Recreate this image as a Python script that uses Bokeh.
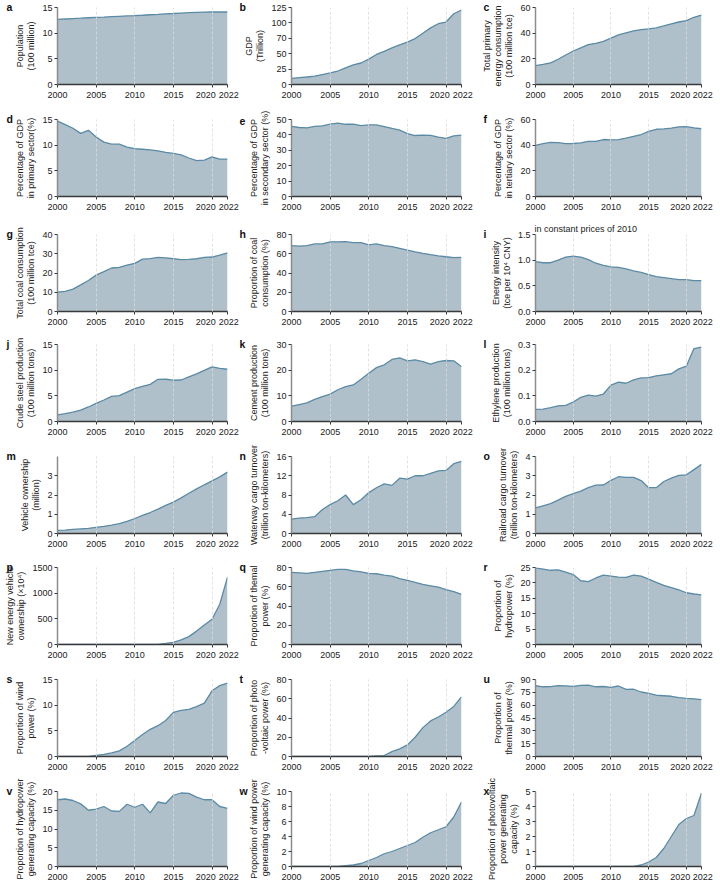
from bokeh.plotting import figure
from bokeh.layouts import gridplot
from bokeh.models import FixedTicker, NumeralTickFormatter, Range1d, Title
from bokeh.embed import file_html
from bokeh.resources import INLINE

years = list(range(2000, 2023))
x_ticks = [2000, 2005, 2010, 2015, 2020, 2022]
x_tick_labels = {2020: "2020\u00a0\u00a0\u00a0\u00a0\u00a0", 2022: "\u00a02022"}
grid_years = [2005, 2010, 2015, 2020]

population = [12.67, 12.76, 12.85, 12.92, 13.00, 13.08, 13.14, 13.21, 13.28, 13.35, 13.41, 13.49,
              13.59, 13.67, 13.76, 13.83, 13.92, 14.00, 14.05, 14.10, 14.12, 14.13, 14.12]
gdp = [10.0, 11.1, 12.2, 13.7, 16.2, 18.7, 21.9, 27.0, 31.9, 34.9, 41.2, 48.8, 53.9, 59.3, 64.4,
       68.9, 74.6, 83.2, 91.9, 98.7, 101.4, 114.9, 121.0]
energy_total = [14.7, 15.6, 16.9, 19.7, 23.0, 26.1, 28.6, 31.1, 32.1, 33.6, 36.1, 38.7, 40.2, 41.7,
                42.8, 43.4, 44.1, 45.6, 47.2, 48.7, 49.8, 52.4, 54.1]
primary_share = [14.7, 14.0, 13.3, 12.3, 12.9, 11.6, 10.6, 10.2, 10.2, 9.6, 9.3, 9.2, 9.1, 8.9, 8.6,
                 8.4, 8.1, 7.5, 7.0, 7.1, 7.7, 7.3, 7.3]
secondary_share = [45.5, 44.8, 44.5, 45.6, 45.9, 47.0, 47.6, 46.9, 47.0, 46.0, 46.5, 46.5, 45.4, 44.2,
                   43.1, 40.8, 39.6, 39.9, 39.7, 38.6, 37.8, 39.3, 39.9]
tertiary_share = [39.8, 41.2, 42.2, 42.0, 41.2, 41.3, 41.8, 42.9, 42.9, 44.4, 44.2, 44.3, 45.5, 46.9,
                  48.3, 50.8, 52.4, 52.7, 53.3, 54.3, 54.5, 53.5, 52.8]
coal_total = [10.1, 10.5, 11.6, 13.8, 16.1, 18.9, 20.7, 22.6, 22.9, 24.1, 25.0, 27.2, 27.5, 28.1,
              27.9, 27.4, 27.0, 27.1, 27.4, 28.1, 28.3, 29.3, 30.4]
coal_share = [68.5, 68.0, 68.5, 70.2, 70.2, 72.4, 72.4, 72.5, 71.5, 71.6, 69.2, 70.2, 68.5, 67.4,
              65.6, 63.7, 62.0, 60.4, 59.0, 57.7, 56.9, 56.0, 56.2]
energy_intensity = [0.97, 0.95, 0.95, 1.00, 1.06, 1.08, 1.06, 1.01, 0.94, 0.90, 0.87, 0.86, 0.83,
                    0.79, 0.76, 0.72, 0.68, 0.66, 0.64, 0.62, 0.62, 0.60, 0.60]
crude_steel = [1.29, 1.52, 1.82, 2.22, 2.83, 3.53, 4.19, 4.89, 5.03, 5.72, 6.39, 6.85, 7.24, 8.22,
               8.23, 8.04, 8.08, 8.71, 9.28, 9.96, 10.65, 10.35, 10.18]
cement = [5.97, 6.61, 7.25, 8.62, 9.70, 10.69, 12.37, 13.61, 14.24, 16.44, 18.82, 20.99, 22.10, 24.19,
          24.76, 23.59, 24.03, 23.31, 22.36, 23.30, 23.77, 23.63, 21.30]
ethylene = [0.047, 0.048, 0.054, 0.061, 0.063, 0.076, 0.094, 0.103, 0.099, 0.107, 0.142, 0.153, 0.149,
            0.162, 0.170, 0.171, 0.178, 0.182, 0.186, 0.205, 0.216, 0.284, 0.290]
vehicles = [0.16, 0.18, 0.21, 0.24, 0.27, 0.32, 0.37, 0.43, 0.51, 0.63, 0.78, 0.94, 1.09, 1.27, 1.46,
            1.63, 1.85, 2.09, 2.32, 2.53, 2.73, 2.94, 3.19]
waterway = [3.0, 3.2, 3.3, 3.5, 5.0, 6.0, 6.8, 8.0, 6.0, 7.0, 8.5, 9.5, 10.3, 10.0, 11.5, 11.3, 12.0,
            12.0, 12.5, 13.0, 13.1, 14.5, 15.0]
railroad = [1.33, 1.44, 1.55, 1.73, 1.93, 2.07, 2.20, 2.38, 2.51, 2.52, 2.76, 2.95, 2.92, 2.92, 2.75,
            2.38, 2.38, 2.70, 2.88, 3.02, 3.05, 3.32, 3.59]
nev = [0, 0, 0, 0, 0, 0, 0, 0, 0, 0, 0, 0, 0, 3, 22, 42, 91, 153, 261, 381, 492, 784, 1310]
thermal_share_q = [75, 74.5, 74, 75, 76, 77, 78, 78, 76.5, 75.5, 74, 73.5, 72, 71, 68.5, 66.5, 64.5,
                   62.5, 61, 59.5, 57, 55, 52]
hydro_share = [24.9, 24.5, 24.1, 24.2, 23.5, 22.7, 20.7, 20.4, 21.6, 22.5, 22.2, 21.9, 21.8, 22.5,
               22.2, 21.2, 20.2, 19.2, 18.5, 17.7, 16.8, 16.4, 16.1]
wind_share = [0, 0, 0, 0, 0, 0.2, 0.4, 0.7, 1.1, 2.0, 3.1, 4.3, 5.3, 6.0, 7.0, 8.6, 9.0, 9.2, 9.7,
              10.4, 12.8, 13.8, 14.3]
pv_share = [0, 0, 0, 0, 0, 0, 0, 0, 0, 0, 0, 0.5, 1, 5, 8, 12, 20, 30, 37, 41, 46, 52, 62]
thermal_share_u = [82.7, 81.5, 81.7, 82.9, 82.6, 82.0, 83.2, 83.3, 81.5, 81.8, 80.8, 82.4, 78.5, 78.6,
                   75.4, 73.7, 71.6, 71.0, 70.4, 68.9, 67.9, 67.4, 66.5]
hydro_cap_share = [17.8, 18.0, 17.6, 16.7, 15.0, 15.3, 16.0, 14.8, 14.7, 16.6, 15.8, 16.6, 14.3, 17.2,
                   16.8, 19.0, 19.6, 19.5, 18.5, 17.8, 17.8, 16.0, 15.5]
wind_cap_share = [0, 0, 0, 0, 0, 0, 0, 0.1, 0.2, 0.4, 0.8, 1.2, 1.7, 2.0, 2.4, 2.8, 3.2, 3.9, 4.5,
                  4.9, 5.3, 6.6, 8.6]
pv_cap_share = [0, 0, 0, 0, 0, 0, 0, 0, 0, 0, 0, 0, 0, 0, 0.1, 0.3, 0.6, 1.2, 2.0, 2.8, 3.2, 3.4, 4.9]

FILL = "#b0c0cb"
LINE = "#5a8aa5"
FONT = "Liberation Sans"

# (letter, y label, values, y ticks, y max, tick format, tick label overrides)
panels = [
    ("a", "Population\n(100 million)", population, [0, 5, 10, 15], 15, None, None),
    ("b", "GDP\n(Trillion)", gdp, [0, 25, 50, 75, 100, 125], 125, None, {75: "70"}),
    ("c", "Total primary\nenergy consumption\n(100 million tce)", energy_total, [0, 20, 40, 60], 60, None, None),
    ("d", "Percentage of GDP\nin primary sector(%)", primary_share, [0, 5, 10, 15], 15, None, None),
    ("e", "Percentage of GDP\nin secondary sector (%)", secondary_share, [0, 10, 20, 30, 40, 50], 50, None, None),
    ("f", "Percentage of GDP\nin tertiary sector (%)", tertiary_share, [0, 20, 40, 60], 60, None, None),
    ("g", "Total coal consumption\n(100 million tce)", coal_total, [0, 10, 20, 30, 40], 40, None, None),
    ("h", "Proportion of coal\nconsumption (%)", coal_share, [0, 20, 40, 60, 80], 80, None, None),
    ("i", "Energy intensity\n(tce per 10\u2074 CNY)", energy_intensity, [0, 0.5, 1.0, 1.5], 1.5, "0.0", None),
    ("j", "Crude steel production\n(100 million tons)", crude_steel, [0, 5, 10, 15], 15, None, None),
    ("k", "Cement production\n(100 million tons)", cement, [0, 10, 20, 30], 30, None, None),
    ("l", "Ethylene production\n(100 million tons)", ethylene, [0, 0.1, 0.2, 0.3], 0.3, "0.0", None),
    ("m", "Vehicle ownership\n(million)", vehicles, [0, 1, 2, 3], 4, None, None),
    ("n", "Waterway cargo turnover\n(trillion ton-kilometers)", waterway, [0, 4, 8, 12, 16], 16, None, None),
    ("o", "Railroad cargo turnover\n(trillion ton-kilometers)", railroad, [0, 1, 2, 3, 4], 4, None, None),
    ("p", "New energy vehicle\nownership (\u00d710\u2074)", nev, [0, 500, 1000, 1500], 1500, None, None),
    ("q", "Proportion of themal\npower (%)", thermal_share_q, [0, 20, 40, 60, 80], 80, None, None),
    ("r", "Proportion of\nhydropower (%)", hydro_share, [0, 5, 10, 15, 20, 25], 25, None, None),
    ("s", "Proportion of wind\npower (%)", wind_share, [0, 5, 10, 15], 15, None, None),
    ("t", "Proportion of photo\n-voltaic power (%)", pv_share, [0, 20, 40, 60, 80], 80, None, None),
    ("u", "Proportion of\nthermal power (%)", thermal_share_u, [0, 15, 30, 45, 60, 75, 90], 90, None, None),
    ("v", "Proportion of hydropower\ngenerating capacity (%)", hydro_cap_share, [0, 5, 10, 15, 20], 20, None, None),
    ("w", "Proportion of wind power\ngenerating capacity (%)", wind_cap_share, [0, 2, 4, 6, 8, 10], 10, None, None),
    ("x", "Proportion of photovoltaic\npower generating\ncapacity (%)", pv_cap_share, [0, 1, 2, 3, 4, 5], 5, None, None),
]

NOTE_I = "in constant prices of 2010"
FRAME_W = 170
FRAME_H = 77
COL_LEFT = [57, 52, 52]
COL_RIGHT = [12, 18, 19]
LETTER_OFFSET = [-51, -52, -52]
ROW_TOP = [7, 12, 12, 12, 12, 12, 12, 14]
ROW_BOTTOM = [23, 26, 21, 23, 22, 23, 21, 16]


def make_panel(idx, letter, label, values, yticks, ymax, fmt, overrides):
    row, col = divmod(idx, 3)
    top, bottom = ROW_TOP[row], ROW_BOTTOM[row]
    left, right = COL_LEFT[col], COL_RIGHT[col]
    p = figure(width=left + FRAME_W + right, height=top + FRAME_H + bottom,
               x_range=Range1d(2000, 2022), y_range=Range1d(yticks[0], ymax),
               output_backend="svg", toolbar_location=None,
               min_border_left=left, min_border_right=right,
               min_border_top=top, min_border_bottom=bottom)
    p.outline_line_color = None
    p.varea(x=years, y1=0, y2=values, fill_color=FILL, fill_alpha=1.0)
    p.line(years, values, line_color=LINE, line_width=1.3)

    p.ygrid.visible = False
    p.xgrid.ticker = FixedTicker(ticks=grid_years)
    p.xgrid.grid_line_color = "#dadada"
    p.xgrid.grid_line_dash = "3 2"
    p.xgrid.grid_line_width = 0.8
    p.xgrid.level = "annotation"

    for ax in (p.xaxis[0], p.yaxis[0]):
        ax.major_label_text_font = FONT
        ax.major_label_text_font_size = "9px"
        ax.major_label_text_color = "#222222"
        ax.minor_tick_line_color = None
        ax.major_tick_in = 0
        ax.major_tick_out = 3
        ax.major_label_standoff = 2
    p.xaxis.ticker = FixedTicker(ticks=x_ticks)
    p.xaxis.major_label_overrides = x_tick_labels
    p.xaxis.axis_line_color = "#3a3a3a"
    p.xaxis.axis_line_width = 1.5
    p.xaxis.major_tick_line_color = "#3a3a3a"
    p.yaxis.ticker = FixedTicker(ticks=yticks)
    p.yaxis.axis_line_color = "#8c8c8c"
    p.yaxis.axis_line_width = 1.5
    p.yaxis.major_tick_line_color = "#3a3a3a"
    if fmt:
        p.yaxis.formatter = NumeralTickFormatter(format=fmt)
    if overrides:
        p.yaxis.major_label_overrides = overrides
    p.yaxis.axis_label = label
    p.yaxis.axis_label_text_font = FONT
    p.yaxis.axis_label_text_font_size = "9px"
    p.yaxis.axis_label_text_font_style = "normal"
    p.yaxis.axis_label_text_color = "#222222"
    p.yaxis.axis_label_text_line_height = 1.1
    p.yaxis.axis_label_standoff = 3

    # panel letter, straddling the top edge of the frame at the far left
    p.add_layout(Title(text=letter, align="left", offset=LETTER_OFFSET[col], standoff=-11,
                       text_font=FONT, text_font_style="bold", text_font_size="10.5px",
                       text_color="#111111"), "above")
    if letter == "i":
        p.add_layout(Title(text=NOTE_I, align="left", offset=-1, standoff=-4,
                           text_font=FONT, text_font_style="normal", text_font_size="9px",
                           text_color="#222222"), "above")
    return p


figs = [make_panel(i, *spec) for i, spec in enumerate(panels)]
grid = gridplot(figs, ncols=3, toolbar_location=None)

open("out.html", "w").write(file_html(grid, INLINE))
